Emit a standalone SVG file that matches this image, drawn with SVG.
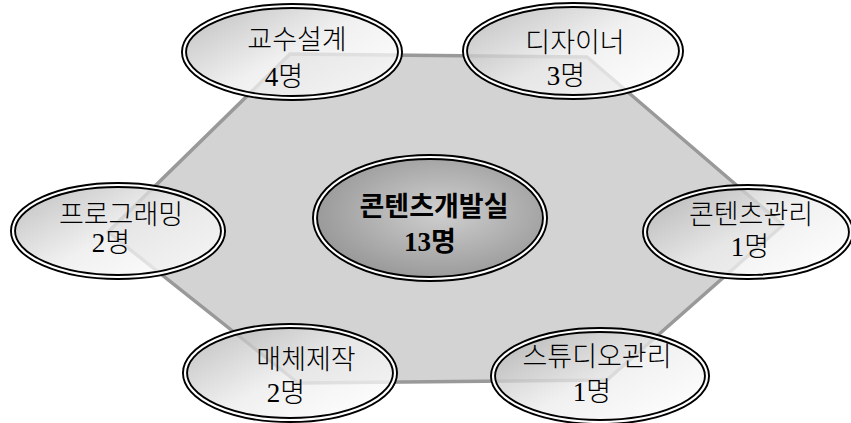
<svg xmlns="http://www.w3.org/2000/svg" width="851" height="423" viewBox="0 0 851 423">
<defs>
<linearGradient id="sat" x1="0" y1="0.1" x2="1" y2="0.9">
<stop offset="0" stop-color="#b0b0b0"/>
<stop offset="0.5" stop-color="#ececec"/>
<stop offset="1" stop-color="#ffffff"/>
</linearGradient>
<radialGradient id="ctr" cx="0.55" cy="0.45" r="0.6">
<stop offset="0" stop-color="#d0d0d0"/>
<stop offset="1" stop-color="#959595"/>
</radialGradient>
</defs>
<style>
.fill{fill:url(#sat);fill-opacity:0.78}
.b1{fill:none;stroke:#000;stroke-width:6}
.b2{fill:none;stroke:#fff;stroke-width:2.2}
text{font-family:"Liberation Serif","Noto Sans CJK KR",serif;font-size:27px;fill:#000;text-anchor:middle;font-weight:300}
.bold{font-weight:700}
</style>
<rect width="851" height="423" fill="#fff"/>
<g id="connectors">
<polygon points="290,54 587,57 783,225 607,380 298,383 108,232" fill="#d3d3d3" stroke="#999" stroke-width="3.5" stroke-linejoin="round"/>
</g>
<g id="center">
<ellipse cx="430" cy="218" rx="115" ry="61" fill="url(#ctr)"/>
<ellipse class="b1" cx="430" cy="218" rx="115" ry="61"/>
<ellipse class="b2" cx="430" cy="218" rx="115" ry="61"/>
<text class="bold" x="434" y="216">콘텐츠개발실</text>
<text class="bold" x="430" y="251">13명</text>
</g>
<g id="n1">
<ellipse class="fill" cx="292" cy="52" rx="108" ry="46"/>
<ellipse class="b1" cx="292" cy="52" rx="108" ry="46"/>
<ellipse class="b2" cx="292" cy="52" rx="108" ry="46"/>
<text x="297" y="49">교수설계</text>
<text x="284" y="86">4명</text>
</g>
<g id="n2">
<ellipse class="fill" cx="573" cy="51" rx="108" ry="46"/>
<ellipse class="b1" cx="573" cy="51" rx="108" ry="46"/>
<ellipse class="b2" cx="573" cy="51" rx="108" ry="46"/>
<text x="575" y="52">디자이너</text>
<text x="566" y="85">3명</text>
</g>
<g id="n3">
<ellipse class="fill" cx="748" cy="232" rx="103" ry="45"/>
<ellipse class="b1" cx="748" cy="232" rx="103" ry="45"/>
<ellipse class="b2" cx="748" cy="232" rx="103" ry="45"/>
<text x="751" y="224">콘텐츠관리</text>
<text x="750" y="256">1명</text>
</g>
<g id="n4">
<ellipse class="fill" cx="118" cy="231" rx="105" ry="46"/>
<ellipse class="b1" cx="118" cy="231" rx="105" ry="46"/>
<ellipse class="b2" cx="118" cy="231" rx="105" ry="46"/>
<text x="121" y="224">프로그래밍</text>
<text x="111" y="252">2명</text>
</g>
<g id="n5">
<ellipse class="fill" cx="290" cy="373" rx="105" ry="47"/>
<ellipse class="b1" cx="290" cy="373" rx="105" ry="47"/>
<ellipse class="b2" cx="290" cy="373" rx="105" ry="47"/>
<text x="306" y="369">매체제작</text>
<text x="286" y="402">2명</text>
</g>
<g id="n6">
<ellipse class="fill" cx="600" cy="376" rx="107" ry="46"/>
<ellipse class="b1" cx="600" cy="376" rx="107" ry="46"/>
<ellipse class="b2" cx="600" cy="376" rx="107" ry="46"/>
<text x="597" y="366">스튜디오관리</text>
<text x="592" y="401">1명</text>
</g>
</svg>
